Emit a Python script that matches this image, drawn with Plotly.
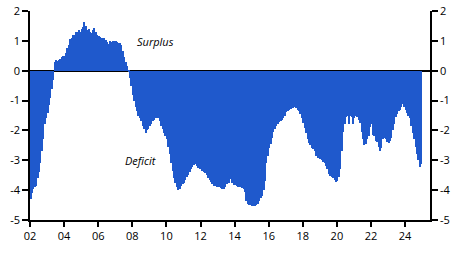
import plotly.graph_objects as go

# Monthly balance (% of GDP), Jan 2002 - Dec 2024
v2002 = [-4.3, -4.1, -3.95, -3.9, -3.85, -3.6, -3.4, -3.1, -2.7, -2.3, -1.8, -1.6]
v2003 = [-1.4, -1.15, -0.9, -0.6, -0.3, 0.3, 0.35, 0.33, 0.35, 0.4, 0.45, 0.5]
v2004 = [0.5, 0.6, 0.75, 0.85, 1.05, 1.1, 1.2, 1.2, 1.3, 1.3, 1.35, 1.3]
v2005 = [1.4, 1.45, 1.64, 1.5, 1.35, 1.4, 1.3, 1.25, 1.35, 1.43, 1.3, 1.2]
v2006 = [1.15, 1.12, 1.1, 1.05, 1.08, 1.03, 0.95, 0.9, 1.0, 0.97, 0.98, 1.0]
v2007 = [0.98, 0.95, 0.93, 0.92, 0.85, 0.65, 0.45, 0.3, 0.15, -0.05, -0.25, -0.5]
v2008 = [-0.8, -1.0, -1.2, -1.35, -1.5, -1.6, -1.7, -1.85, -1.95, -2.08, -2.0, -1.95]
v2009 = [-1.85, -1.8, -1.7, -1.65, -1.6, -1.55, -1.6, -1.7, -1.85, -1.95, -2.1, -2.2]
v2010 = [-2.3, -2.55, -2.8, -3.1, -3.35, -3.6, -3.75, -3.9, -4.0, -3.95, -3.85, -3.8]
v2011 = [-3.75, -3.65, -3.55, -3.48, -3.4, -3.3, -3.22, -3.15, -3.13, -3.2, -3.25, -3.3]
v2012 = [-3.3, -3.35, -3.38, -3.42, -3.5, -3.6, -3.65, -3.72, -3.8, -3.85, -3.87, -3.88]
v2013 = [-3.9, -3.88, -3.92, -3.95, -3.97, -3.9, -3.8, -3.75, -3.75, -3.63, -3.75, -3.82]
v2014 = [-3.82, -3.85, -3.88, -3.9, -3.9, -3.92, -3.97, -4.05, -4.35, -4.48, -4.5, -4.5]
v2015 = [-4.52, -4.52, -4.52, -4.5, -4.45, -4.35, -4.25, -4.2, -4.0, -3.7, -3.1, -2.85]
v2016 = [-2.6, -2.45, -2.25, -2.05, -1.95, -1.85, -1.8, -1.72, -1.7, -1.65, -1.58, -1.5]
v2017 = [-1.38, -1.35, -1.3, -1.28, -1.22, -1.24, -1.2, -1.25, -1.3, -1.35, -1.45, -1.6]
v2018 = [-1.75, -1.91, -2.1, -2.3, -2.42, -2.5, -2.58, -2.62, -2.69, -2.85, -2.91, -2.9]
v2019 = [-2.95, -3.0, -3.05, -3.1, -3.2, -3.3, -3.45, -3.52, -3.55, -3.58, -3.65, -3.74]
v2020 = [-3.7, -3.55, -3.3, -2.69, -2.05, -1.8, -1.55, -1.52, -1.8, -1.52, -1.55, -1.8]
v2021 = [-1.6, -1.52, -1.55, -1.65, -1.75, -2.05, -2.3, -2.5, -2.45, -2.3, -2.2, -1.9]
v2022 = [-1.8, -2.15, -2.2, -2.35, -2.4, -2.55, -2.69, -2.58, -2.3, -2.24, -2.28, -2.4]
v2023 = [-2.41, -2.35, -2.24, -2.0, -1.8, -1.55, -1.45, -1.35, -1.3, -1.2, -1.13, -1.2]
v2024 = [-1.3, -1.4, -1.5, -1.6, -1.85, -2.1, -2.3, -2.55, -2.8, -3.0, -3.24, -3.13]

values = (v2002 + v2003 + v2004 + v2005 + v2006 + v2007 + v2008 + v2009 + v2010
          + v2011 + v2012 + v2013 + v2014 + v2015 + v2016 + v2017 + v2018 + v2019
          + v2020 + v2021 + v2022 + v2023 + v2024)

start_year = 2002
x_years = [start_year + (i + 0.5) / 12 for i in range(len(values))]

x_tickvals = [2002, 2004, 2006, 2008, 2010, 2012, 2014, 2016, 2018, 2020, 2022, 2024]
x_ticktext = ["02", "04", "06", "08", "10", "12", "14", "16", "18", "20", "22", "24"]
y_tickvals = [-5, -4, -3, -2, -1, 0, 1, 2]
y_ticktext = ["-5", "-4", "-3", "-2", "-1", "0", "1", "2"]

BLUE = "#1f59cc"
FONT = "Open Sans"

fig = go.Figure()
fig.add_trace(go.Bar(x=x_years, y=values, width=1 / 12, marker=dict(color=BLUE, line=dict(width=0)),
                     showlegend=False, hoverinfo="skip"))
# invisible trace to activate right axis
fig.add_trace(go.Scatter(x=[x_years[0]], y=[0], yaxis="y2", mode="markers",
                         marker=dict(opacity=0), showlegend=False, hoverinfo="skip"))

xr = [2002, 2002 + 400 / 17.05]

fig.update_layout(
    width=461, height=254,
    margin=dict(l=30, r=31, t=11, b=34, autoexpand=False),
    paper_bgcolor="white", plot_bgcolor="white",
    bargap=0,
    font=dict(family=FONT, size=11, color="#000000"),
    xaxis=dict(range=xr, tickvals=x_tickvals, ticktext=x_ticktext, showgrid=False,
               zeroline=False, showline=True, linecolor="black", linewidth=1.5,
               ticks="outside", ticklen=5, tickwidth=1.5, tickcolor="black",
               automargin=False, tickfont=dict(family=FONT, size=11)),
    yaxis=dict(range=[-5, 2], tickvals=y_tickvals, ticktext=y_ticktext, showgrid=False,
               zeroline=True, zerolinecolor="black", zerolinewidth=1.5,
               showline=True, linecolor="black", linewidth=1.5,
               ticks="outside", ticklen=6, tickwidth=1.5, tickcolor="black",
               automargin=False, tickfont=dict(family=FONT, size=11)),
    yaxis2=dict(range=[-5, 2], tickvals=y_tickvals, ticktext=y_ticktext, showgrid=False,
                overlaying="y", side="right", zeroline=False,
                showline=True, linecolor="black", linewidth=1.5,
                ticks="outside", ticklen=6, tickwidth=1.5, tickcolor="black",
                automargin=False, tickfont=dict(family=FONT, size=11)),
    annotations=[
        dict(x=2009.35, y=0.97, xref="x", yref="y", text="Surplus", showarrow=False,
             font=dict(family=FONT, size=11, style="italic", color="black")),
        dict(x=2008.5, y=-3.0, xref="x", yref="y", text="Deficit", showarrow=False,
             font=dict(family=FONT, size=11, style="italic", color="black")),
    ],
)

fig.write_html("out.html")
